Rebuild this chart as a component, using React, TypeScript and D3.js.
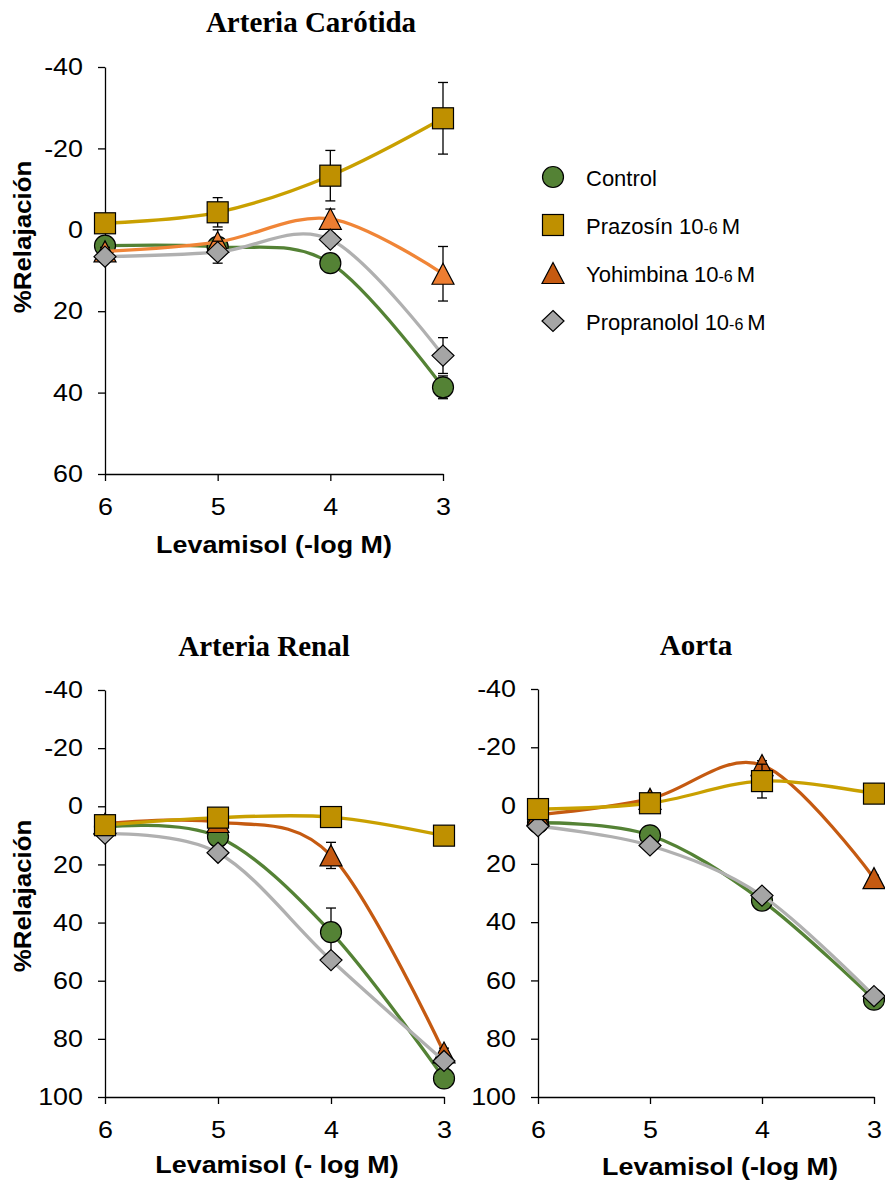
import React, { useEffect, useRef } from "react";
import * as d3 from "d3";

const SANS = "'Liberation Sans', Arial, sans-serif";
const SERIF = "'Liberation Serif', 'Times New Roman', serif";
const SX = 1.12; // the source picture is slightly stretched sideways

const doses = [6, 5, 4, 3];
const carotidaTicks = [-40, -20, 0, 20, 40, 60];
const wideTicks = [-40, -20, 0, 20, 40, 60, 80, 100];

// Arteria Carótida (mean, sem)
const carotidaControl = [3.9, 4.2, 8.2, 38.7];
const carotidaControlSem = [0.8, 0.8, 1.0, 2.8];
const carotidaPrazosin = [-1.6, -4.3, -13.3, -27.4];
const carotidaPrazosinSem = [0.5, 3.6, 6.2, 8.8];
const carotidaYohimbina = [5.3, 3.0, -2.7, 10.8];
const carotidaYohimbinaSem = [1.0, 3.0, 2.4, 6.7];
const carotidaPropranolol = [6.6, 5.5, 2.4, 30.9];
const carotidaPropranololSem = [1.0, 2.7, 1.5, 4.4];

// Arteria Renal
const renalControl = [7.1, 10.5, 43.3, 93.6];
const renalControlSem = [0.5, 1.0, 8.3, 1.5];
const renalPrazosin = [6.5, 3.9, 3.7, 10.1];
const renalPrazosinSem = [0.5, 0.5, 0.5, 0.5];
const renalYohimbina = [6.0, 5.4, 16.9, 84.7];
const renalYohimbinaSem = [0.5, 0.5, 4.5, 1.5];
const renalPropranolol = [9.4, 16.0, 52.9, 87.6];
const renalPropranololSem = [0.5, 1.0, 1.5, 1.5];

// Aorta
const aortaControl = [5.9, 10.2, 32.6, 66.6];
const aortaControlSem = [0.5, 1.0, 1.0, 1.0];
const aortaPrazosin = [1.2, -0.8, -8.4, -4.1];
const aortaPrazosinSem = [0.5, 0.5, 5.8, 0.5];
const aortaYohimbina = [3.2, -2.3, -13.9, 24.9];
const aortaYohimbinaSem = [0.5, 0.5, 1.5, 1.0];
const aortaPropranolol = [7.1, 13.7, 30.9, 65.4];
const aortaPropranololSem = [0.5, 1.0, 1.0, 1.0];

const legendNames = ["Control", "Prazosín", "Yohimbina", "Propranolol"];

const styles = {
  control: { fill: "#548235", line: "#548235", shape: "circle" },
  prazosin: { fill: "#BF9000", line: "#C9A000", shape: "square" },
  yohimbina: { fill: "#C55A11", line: "#C55A11", shape: "triangle" },
  yohimbinaLight: { fill: "#ED7D31", line: "#F08537", shape: "triangle" },
  propranolol: { fill: "#A5A5A5", line: "#B0B0B0", shape: "diamond" },
};

type Series = { style: keyof typeof styles; values: number[]; sem: number[] };

function Marker({ shape, cx, cy, fill }: { shape: string; cx: number; cy: number; fill: string }) {
  const s = 10.5;
  const common = { fill, stroke: "#000", strokeWidth: 1.2 };
  if (shape === "circle") return <circle cx={cx} cy={cy} r={s} {...common} />;
  if (shape === "square") return <rect x={cx - s} y={cy - s} width={2 * s} height={2 * s} {...common} />;
  if (shape === "triangle")
    return <polygon points={`${cx},${cy - s} ${cx + 11},${cy + s} ${cx - 11},${cy + s}`} {...common} />;
  return <polygon points={`${cx},${cy - s} ${cx + 11},${cy} ${cx},${cy + s} ${cx - 11},${cy}`} {...common} />;
}

function Panel({
  title, titleX, titleY, left, right, top, bottom, yDomain, yTicks, series,
  xTitle, xTitleX, xTitleY, yTitleY,
}: {
  title: string; titleX: number; titleY: number; left: number; right: number; top: number; bottom: number;
  yDomain: [number, number]; yTicks: number[]; series: Series[];
  xTitle: string; xTitleX: number; xTitleY: number; yTitleY?: number;
}) {
  const xAxisRef = useRef<SVGGElement>(null);
  const yAxisRef = useRef<SVGGElement>(null);

  const x = d3.scaleLinear().domain([6, 3]).range([left, right]);
  const y = d3.scaleLinear().domain(yDomain).range([top, bottom]);

  useEffect(() => {
    const gx = d3.select(xAxisRef.current!);
    gx.call(
      d3.axisBottom(x).tickValues(doses).tickSize(7).tickSizeOuter(0).tickPadding(17)
        .tickFormat((d) => String(d))
    );
    const gy = d3.select(yAxisRef.current!);
    gy.call(
      d3.axisLeft(y).tickValues(yTicks).tickSize(7).tickSizeOuter(0).tickPadding(22 / SX - 7)
        .tickFormat((d) => String(d))
    );
    [gx, gy].forEach((g) => {
      g.attr("font-family", SANS).attr("font-size", 24);
      g.selectAll(".tick text").attr("transform", `scale(${SX},1)`).attr("fill", "#000");
      g.selectAll(".tick line").attr("stroke-width", 1.3);
      g.select(".domain").attr("stroke-width", 1.3);
    });
  }, []);

  const line = d3
    .line<number>()
    .x((_, i) => x(doses[i]))
    .y((d) => y(d))
    .curve(d3.curveCardinal.tension(0));

  return (
    <g>
      <text x={titleX} y={titleY} textAnchor="middle" fontFamily={SERIF} fontWeight="bold" fontSize={29}>
        {title}
      </text>
      <g ref={xAxisRef} transform={`translate(0,${bottom})`} />
      <g ref={yAxisRef} transform={`translate(${left},0)`} />
      <text
        transform={`translate(${xTitleX},${xTitleY}) scale(${SX},1)`}
        textAnchor="middle" fontFamily={SANS} fontWeight="bold" fontSize={24}
      >
        {xTitle}
      </text>
      {yTitleY !== undefined && (
        <text
          transform={`translate(31,${yTitleY}) rotate(-90) scale(1.08,1)`}
          textAnchor="middle" fontFamily={SANS} fontWeight="bold" fontSize={24}
        >
          %Relajación
        </text>
      )}
      {series.map((s, k) => {
        const st = styles[s.style];
        return (
          <g key={k}>
            <path d={line(s.values) || ""} fill="none" stroke={st.line} strokeWidth={3.3} />
            {s.values.map((v, i) => {
              const cx = x(doses[i]);
              const y1 = y(v - s.sem[i]);
              const y2 = y(v + s.sem[i]);
              return (
                <g key={i} stroke="#000" strokeWidth={1.3}>
                  <line x1={cx} x2={cx} y1={y1} y2={y2} />
                  <line x1={cx - 5} x2={cx + 5} y1={y1} y2={y1} />
                  <line x1={cx - 5} x2={cx + 5} y1={y2} y2={y2} />
                </g>
              );
            })}
            {s.values.map((v, i) => (
              <Marker key={i} shape={st.shape} cx={x(doses[i])} cy={y(v)} fill={st.fill} />
            ))}
          </g>
        );
      })}
    </g>
  );
}

function Legend() {
  const legendStyles: (keyof typeof styles)[] = ["control", "prazosin", "yohimbina", "propranolol"];
  return (
    <g fontFamily={SANS} fontSize={22}>
      {legendNames.map((name, i) => {
        const cy = 177 + i * 48;
        const st = styles[legendStyles[i]];
        return (
          <g key={name}>
            <Marker shape={st.shape} cx={553} cy={cy} fill={st.fill} />
            <text x={586} y={cy + 9}>
              {name}
              {i > 0 && (
                <>
                  {" 10"}
                  <tspan fontSize={16}>-6</tspan>
                  <tspan dx={4}>M</tspan>
                </>
              )}
            </text>
          </g>
        );
      })}
    </g>
  );
}

export default function App() {
  return (
    <svg width={885} height={1183} style={{ position: "absolute", left: 0, top: 0, background: "#fff" }}>
      <Panel
        title="Arteria Carótida" titleX={311} titleY={32}
        left={105} right={443} top={67} bottom={474}
        yDomain={[-40, 60]} yTicks={carotidaTicks}
        xTitle="Levamisol (-log M)" xTitleX={274} xTitleY={553} yTitleY={237}
        series={[
          { style: "control", values: carotidaControl, sem: carotidaControlSem },
          { style: "yohimbinaLight", values: carotidaYohimbina, sem: carotidaYohimbinaSem },
          { style: "propranolol", values: carotidaPropranolol, sem: carotidaPropranololSem },
          { style: "prazosin", values: carotidaPrazosin, sem: carotidaPrazosinSem },
        ]}
      />
      <Legend />
      <Panel
        title="Arteria Renal" titleX={264} titleY={656}
        left={105} right={444} top={690} bottom={1097}
        yDomain={[-40, 100]} yTicks={wideTicks}
        xTitle="Levamisol (- log M)" xTitleX={277} xTitleY={1173} yTitleY={896}
        series={[
          { style: "control", values: renalControl, sem: renalControlSem },
          { style: "yohimbina", values: renalYohimbina, sem: renalYohimbinaSem },
          { style: "propranolol", values: renalPropranolol, sem: renalPropranololSem },
          { style: "prazosin", values: renalPrazosin, sem: renalPrazosinSem },
        ]}
      />
      <Panel
        title="Aorta" titleX={696} titleY={655}
        left={538} right={874} top={689} bottom={1097}
        yDomain={[-40, 100]} yTicks={wideTicks}
        xTitle="Levamisol (-log M)" xTitleX={720} xTitleY={1175}
        series={[
          { style: "control", values: aortaControl, sem: aortaControlSem },
          { style: "yohimbina", values: aortaYohimbina, sem: aortaYohimbinaSem },
          { style: "propranolol", values: aortaPropranolol, sem: aortaPropranololSem },
          { style: "prazosin", values: aortaPrazosin, sem: aortaPrazosinSem },
        ]}
      />
    </svg>
  );
}
